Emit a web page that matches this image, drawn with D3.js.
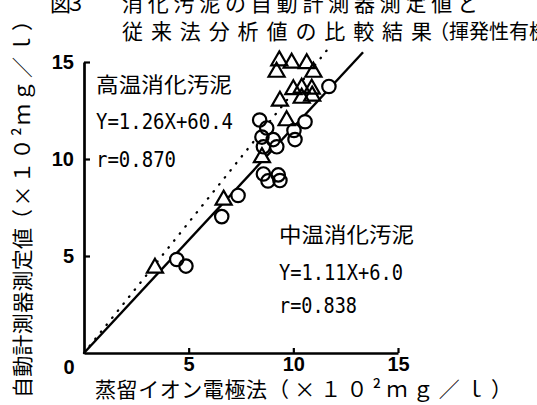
<!DOCTYPE html>
<html>
<head>
<meta charset="utf-8">
<script src="https://cdn.jsdelivr.net/npm/d3@7"></script>
<style>
  body { margin: 0; background: #fff; }
  svg { display: block; }
</style>
</head>
<body>
<div id="chart"></div>
<script>

// 中温消化汚泥 (circles) - values in x10^2 mg/l
var mesoX = [4.43, 4.87, 6.58, 7.36, 8.57, 8.79, 9.28, 9.36, 8.39, 8.73, 8.50, 9.04, 8.57, 9.21, 10.03, 10.08, 10.56, 11.70];
var mesoY = [4.82, 4.48, 7.03, 8.12, 9.23, 8.87, 9.18, 8.89, 12.01, 11.60, 11.13, 11.00, 10.63, 10.63, 11.47, 11.00, 11.92, 13.74];

// 高温消化汚泥 (triangles)
var thermoX = [3.39, 6.67, 8.50, 9.68, 9.36, 10.00, 10.40, 10.88, 10.40, 10.90, 9.33, 9.20, 9.92, 10.64, 10.96];
var thermoY = [4.38, 7.89, 10.08, 11.98, 12.99, 13.58, 13.66, 13.61, 13.14, 13.25, 15.07, 14.48, 14.95, 14.92, 14.48];

// fitted lines as drawn in the figure (start / end points)
var mesoLineX = [0, 13.33], mesoLineY = [0, 15.5];
var thermoLineX = [0, 11.6], thermoLineY = [0, 15.6];

var xTicks = [5, 10, 15];
var yTicks = [5, 10, 15];

var titleLine1 = ["図３", "消化汚泥の自動計測器測定値と"];
var titleLine2 = ["従来法分析値の比較結果", "（揮発性有機酸）"];
var xLabel = ["蒸留イオン電極法", "（×１０²ｍｇ／ｌ）"];
var yLabel = ["自動計測器測定値", "（×１０²ｍｇ／ｌ）"];
var thermoText = ["高温消化汚泥", "Y=1.26X+60.4", "r=0.870"];
var mesoText = ["中温消化汚泥", "Y=1.11X+6.0", "r=0.838"];

var width = 537, height = 405;
var cjk = "'Noto Sans CJK JP', sans-serif";
var mono = "'DejaVu Sans Mono', monospace";
var numFont = "'Liberation Sans', Arial, sans-serif";

var svg = d3.select("#chart")
    .append("svg")
    .attr("width", width)
    .attr("height", height);

svg.append("rect").attr("width", width).attr("height", height).attr("fill", "#fff");

var x = d3.scaleLinear().domain([0, 15]).range([84, 398]);
var y = d3.scaleLinear().domain([0, 15]).range([353, 62]);

// axes
var gx = svg.append("g")
    .attr("transform", "translate(0," + y(0) + ")")
    .call(d3.axisBottom(x).tickValues(xTicks).tickSizeInner(-5).tickSizeOuter(0).tickPadding(4));

var gy = svg.append("g")
    .attr("transform", "translate(" + x(0) + ",0)")
    .call(d3.axisLeft(y).tickValues(yTicks).tickSizeInner(-6).tickSizeOuter(0).tickPadding(10));

[gx, gy].forEach(function (g) {
    g.select(".domain").attr("stroke", "#000").attr("stroke-width", 2.7);
    g.selectAll(".tick line").attr("stroke", "#000").attr("stroke-width", 2.2);
    g.selectAll(".tick text")
        .attr("fill", "#000")
        .style("font-family", numFont)
        .style("font-weight", "bold")
        .style("font-size", "20px");
});

// shared zero at the corner
svg.append("text")
    .attr("x", x(0) - 15)
    .attr("y", y(0) + 21)
    .attr("text-anchor", "middle")
    .style("font-family", numFont)
    .style("font-weight", "bold")
    .style("font-size", "20px")
    .text("0");

// lines
var line = d3.line()
    .x(function (d) { return x(d[0]); })
    .y(function (d) { return y(d[1]); });

svg.append("path")
    .datum(d3.zip(thermoLineX, thermoLineY))
    .attr("d", line)
    .attr("fill", "none")
    .attr("stroke", "#000")
    .attr("stroke-width", 2.3)
    .attr("stroke-linecap", "round")
    .attr("stroke-dasharray", "0.5,8.5");

svg.append("path")
    .datum(d3.zip(mesoLineX, mesoLineY))
    .attr("d", line)
    .attr("fill", "none")
    .attr("stroke", "#000")
    .attr("stroke-width", 2.4);

// markers: white masks first so the lines break at the symbols, then outlines
var meso = d3.zip(mesoX, mesoY);
var thermo = d3.zip(thermoX, thermoY);
var tri = d3.symbol().type(d3.symbolTriangle).size(112);

function drawMarkers(fill, stroke) {
    svg.append("g").selectAll("circle")
        .data(meso)
        .enter()
        .append("circle")
        .attr("cx", function (d) { return x(d[0]); })
        .attr("cy", function (d) { return y(d[1]); })
        .attr("r", 6.7)
        .attr("fill", fill)
        .attr("stroke", stroke)
        .attr("stroke-width", 2.2);

    svg.append("g").selectAll("path")
        .data(thermo)
        .enter()
        .append("path")
        .attr("d", tri)
        .attr("transform", function (d) { return "translate(" + x(d[0]) + "," + y(d[1]) + ")"; })
        .attr("fill", fill)
        .attr("stroke", stroke)
        .attr("stroke-width", 2.2)
        .attr("stroke-linejoin", "miter");
}
drawMarkers("#fff", "none");
drawMarkers("none", "#000");

// annotations
function label(str, xPos, yPos, len, font, size, adjust) {
    var t = svg.append("text")
        .attr("x", xPos)
        .attr("y", yPos)
        .style("font-family", font)
        .style("font-size", size + "px")
        .attr("fill", "#000")
        .text(str);
    if (len) t.attr("textLength", len).attr("lengthAdjust", adjust || "spacingAndGlyphs");
    return t;
}

label(thermoText[0], 96, 91.5, 136, cjk, 21);
label(thermoText[1], 96, 129, 137, mono, 22);
label(thermoText[2], 96, 167, 80, mono, 22);

label(mesoText[0], 279, 241.5, 135, cjk, 21);
label(mesoText[1], 279, 280, 124, mono, 22);
label(mesoText[2], 279, 313, 78, mono, 22);

// title (cut off by the page edges, as in the scan)
label(titleLine1[0], 50, 11, 36, cjk, 21, "spacing");
label(titleLine1[1], 122, 11, 356, cjk, 21, "spacing");
label(titleLine2[0], 122, 38.5, 310, cjk, 21, "spacing");
label(titleLine2[1], 429, 38.5, null, cjk, 20);

// x axis title
label(xLabel[0], 95, 397, 172, cjk, 21, "spacing");
label(xLabel[1], 268, 397, 244, cjk, 21, "spacing");

// y axis title (vertical, reading upward)
var gyl = svg.append("g").attr("transform", "translate(30,0) rotate(-90)");
gyl.append("text")
    .attr("x", -398).attr("y", 0)
    .attr("textLength", 170).attr("lengthAdjust", "spacing")
    .style("font-family", cjk).style("font-size", "21px")
    .text(yLabel[0]);
gyl.append("text")
    .attr("x", -230).attr("y", 0)
    .attr("textLength", 220).attr("lengthAdjust", "spacing")
    .style("font-family", cjk).style("font-size", "21px")
    .text(yLabel[1]);

</script>
</body>
</html>
